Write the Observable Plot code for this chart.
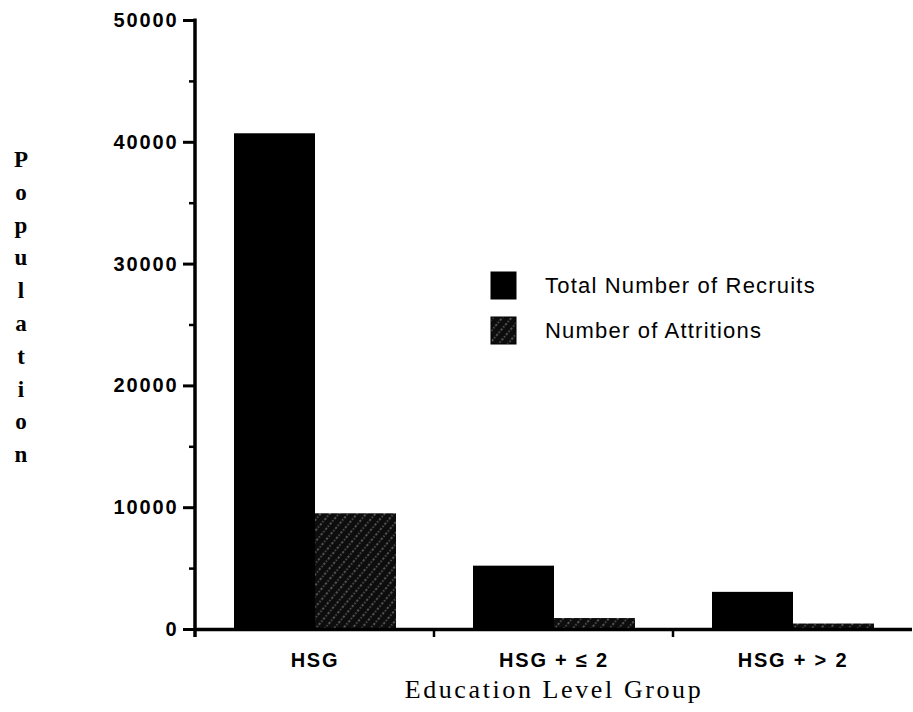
<!DOCTYPE html>
<html>
<head>
<meta charset="utf-8">
<script src="https://cdn.jsdelivr.net/npm/d3@7"></script>
<script src="https://cdn.jsdelivr.net/npm/@observablehq/plot@0.6"></script>
<style>
  body { margin: 0; background: #fff; }
  #chart { position: relative; width: 913px; height: 712px; }
  g[aria-label="y-axis tick label"] text { letter-spacing: 1.9px; }
  g[aria-label="fx-axis tick label"] text { letter-spacing: 1.8px; }
  g[aria-label="fx-axis label"] text {
    font-family: "Liberation Serif", "Times New Roman", serif;
    font-size: 26px; font-weight: normal; letter-spacing: 2.6px;
  }
</style>
</head>
<body>
<div id="chart"></div>
<script>
// ---- data ----
const groups = ["HSG", "HSG + \u2264 2", "HSG + > 2"];
const seriesNames = ["Total Number of Recruits", "Number of Attritions"];
const totalRecruits = [40700, 5200, 3050];
const attritions = [9500, 900, 450];
const yTicks = [0, 10000, 20000, 30000, 40000, 50000];
const yMinorTicks = [5000, 15000, 25000, 35000, 45000];
const yLabel = "Population";
const xLabel = "Education Level Group";

const data = groups.flatMap((g, i) => [
  {group: g, series: seriesNames[0], value: totalRecruits[i]},
  {group: g, series: seriesNames[1], value: attritions[i]}
]);

const sansBold = {fontFamily: "'Liberation Sans', Arial, sans-serif", fontWeight: "bold"};

const plot = Plot.plot({
  width: 913,
  height: 712,
  marginLeft: 194,
  marginRight: 0,
  marginTop: 20,
  marginBottom: 83,
  style: {background: "#fff", color: "#000", overflow: "visible"},
  fx: {domain: groups, padding: 0, label: null, axis: null},
  x: {domain: seriesNames, paddingInner: 0, paddingOuter: 0.47, axis: null},
  y: {domain: [0, 50000], axis: null, label: null},
  color: {domain: seriesNames, range: ["#000", "url(#hatch)"]},
  marks: [
    Plot.barY(data, {fx: "group", x: "series", y: "value", fill: "series"}),
    Plot.ruleY([0], {stroke: "#000", strokeWidth: 3.5}),
    Plot.axisY({ticks: yTicks, tickSize: 12, tickPadding: 5, strokeWidth: 3, label: null,
      tickFormat: d => String(d), fontSize: 20, ...sansBold}),
    Plot.axisY({ticks: yMinorTicks, tickSize: 6, strokeWidth: 2.5, label: null, tickFormat: () => ""}),
    Plot.axisFx({anchor: "bottom", tickSize: 0, tickPadding: 23, fontSize: 20, ...sansBold,
      label: xLabel, labelAnchor: "center", labelOffset: 68})
  ]
});

document.getElementById("chart").appendChild(plot);

// ---- decorations via d3 using Plot's scales ----
const svg = d3.select(plot);
const defs = svg.insert("defs", ":first-child");
const pat = defs.append("pattern")
  .attr("id", "hatch")
  .attr("patternUnits", "userSpaceOnUse")
  .attr("width", 7).attr("height", 7)
  .attr("patternTransform", "rotate(40)");
pat.append("rect").attr("width", 7).attr("height", 7).attr("fill", "#0d0d0d");
pat.append("line")
  .attr("x1", 1).attr("y1", 0).attr("x2", 1).attr("y2", 7)
  .attr("stroke", "#a8a8a8").attr("stroke-width", 0.9)
  .attr("stroke-dasharray", "1.3 1.7");

const fxScale = Plot.scale({fx: plot.scale("fx")});
const yScale = Plot.scale({y: plot.scale("y")});
const y0 = yScale.apply(0);
const yTop = yScale.apply(50000);
const xLeft = fxScale.apply(groups[0]);

const deco = svg.append("g").attr("stroke", "#000");
// y axis line
deco.append("line")
  .attr("x1", xLeft).attr("x2", xLeft)
  .attr("y1", yTop - 1.5).attr("y2", y0 + 8)
  .attr("stroke-width", 3.5);
// group boundary ticks on x axis
groups.slice(1).forEach(g => {
  const x = fxScale.apply(g);
  deco.append("line")
    .attr("x1", x).attr("x2", x)
    .attr("y1", y0).attr("y2", y0 + 8)
    .attr("stroke-width", 2.5);
});

// vertical stacked y label
const yl = svg.append("g")
  .attr("font-family", "'Liberation Serif', 'Times New Roman', serif")
  .attr("font-size", 23)
  .attr("font-weight", "bold")
  .attr("text-anchor", "middle");
Array.from(yLabel).forEach((ch, i) => {
  yl.append("text").attr("x", 21).attr("y", 167 + i * 32.8).text(ch);
});

// legend
const colorRange = plot.scale("color").range;
const lg = svg.append("g")
  .attr("font-family", "'Liberation Sans', Arial, sans-serif")
  .attr("font-size", 22)
  .attr("text-anchor", "start")
  .style("letter-spacing", "1.2px");
seriesNames.forEach((name, i) => {
  const top = 272 + i * 45;
  lg.append("rect")
    .attr("x", 491).attr("y", top).attr("width", 25).attr("height", 27)
    .attr("fill", colorRange[i]).attr("stroke", "#000").attr("stroke-width", 1);
  lg.append("text").attr("x", 545).attr("y", top + 21).text(name);
});
</script>
</body>
</html>
